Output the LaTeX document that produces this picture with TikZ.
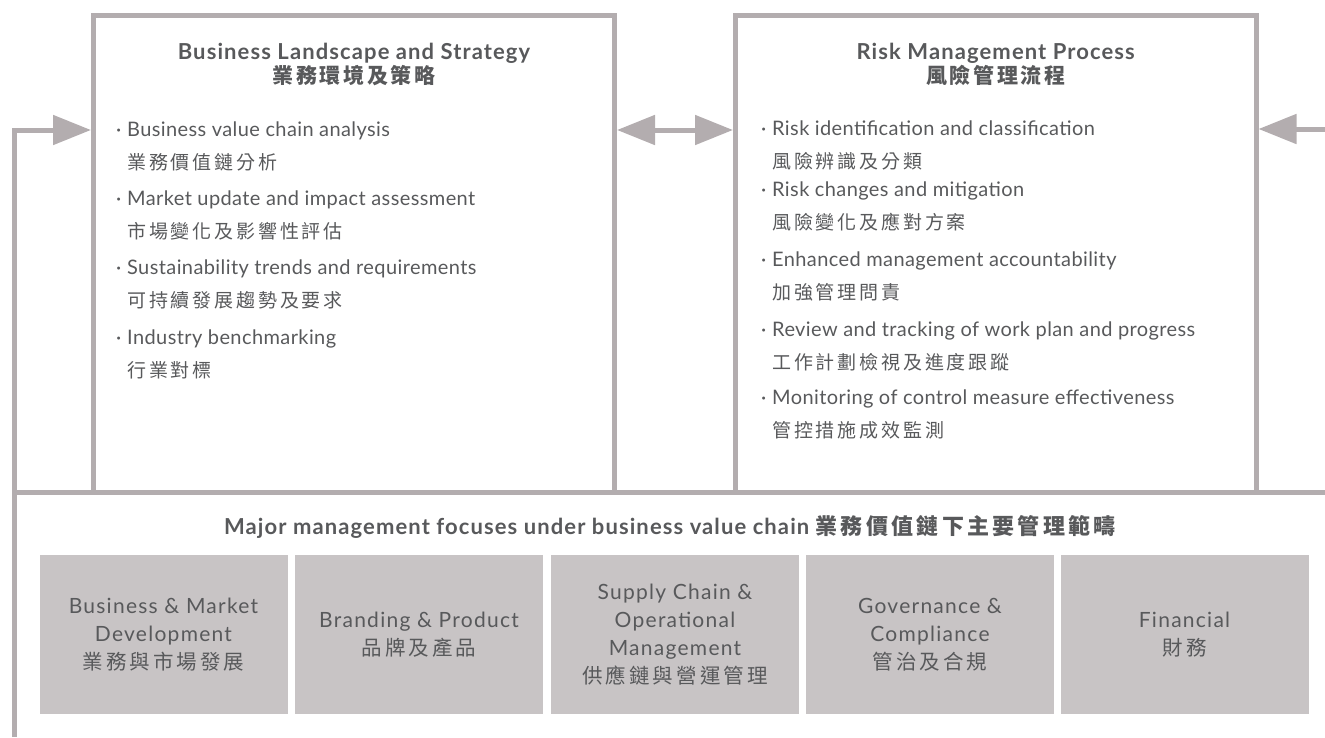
\documentclass[tikz,border=0pt]{standalone}
\usepackage{fontspec}
\setmainfont{Lato}
\newfontfamily\cjk[LetterSpace=15]{Noto Sans CJK TC}
\newfontfamily\cjkt[LetterSpace=12]{Noto Sans CJK TC}
\newfontfamily\cjkb[LetterSpace=15]{Noto Sans CJK TC}
\newfontfamily\latoit[LetterSpace=2]{Lato}
\newfontfamily\latobx[LetterSpace=6]{Lato}
\newfontfamily\latotl[LetterSpace=5]{Lato}
\usetikzlibrary{arrows.meta}
\definecolor{ln}{HTML}{B3ADAF}
\definecolor{bx}{HTML}{C8C4C5}
\definecolor{tx}{HTML}{58595B}
\tikzset{
  frame/.style={draw=ln, line width=5pt, rectangle, inner sep=0pt},
  conn/.style={draw=ln, line width=5pt, line join=miter},
  tip/.style={-{Triangle[length=38pt,width=29pt]}},
  dtip/.style={{Triangle[length=38pt,width=29pt]}-{Triangle[length=38pt,width=29pt]}},
  itm/.style={inner sep=0pt, text=tx, font=\fontsize{20}{24}\latoit},
  itmc/.style={inner sep=0pt, text=tx, font=\fontsize{19}{24}\cjk},
  ttl/.style={inner sep=0pt, text=tx, font=\fontsize{22}{26}\latotl\bfseries},
  ttlc/.style={inner sep=0pt, text=tx, font=\fontsize{21}{26}\cjkt\bfseries},
  focus/.style={fill=bx, inner sep=0pt, minimum width=248pt, minimum height=159pt,
    align=center, text=tx, font=\fontsize{21}{28}\latobx},
}
\newcommand\bxc[1]{{\fontsize{20.5}{28}\cjk #1}}
\newcommand\bullitem[5]{%
  \node[itm, anchor=base west] (#1e) at (#2,#3) {\llap{\textperiodcentered\hspace{6pt}}#4};
  \node[itmc, anchor=base west] (#1c) at (#2,#3+33) {#5};}
\begin{document}
\begin{tikzpicture}[x=1pt,y=-1pt]
\useasboundingbox (0,0) rectangle (1325,737);
% frames
\node[frame, minimum width=521pt, minimum height=476.5pt] (leftbox) at (354,253.75) {};
\node[frame, minimum width=520.5pt, minimum height=476.5pt] (rightbox) at (995.75,253.75) {};
% lines and arrows
\coordinate (hl) at (14.5,492);
\coordinate (hr) at (1325,492);
\draw[conn] (hl) -- (hr);
\coordinate (vb) at (14.5,737);
\coordinate (va) at (14.5,130);
\draw[conn, tip] (vb) -- (va) -- (va -| leftbox.west);
\coordinate (ra) at (1325,129);
\draw[conn, tip] (ra) -- (ra -| rightbox.east);
\coordinate (row) at (0,130);
\draw[conn, dtip] (row -| leftbox.east) -- (row -| rightbox.west);
% titles
\node[ttl, anchor=base] (lt1) at (354,59) {Business Landscape and Strategy};
\node[ttlc, anchor=base] (lt2) at (354,83) {業務環境及策略};
\node[ttl, anchor=base] (rt1) at (995.75,59) {Risk Management Process};
\node[ttlc, anchor=base] (rt2) at (995.75,83) {風險管理流程};
% left items
\bullitem{la}{127}{136}{Business value chain analysis}{業務價值鏈分析}
\bullitem{lb}{127}{205}{Market update and impact assessment}{市場變化及影響性評估}
\bullitem{lc}{127}{274}{Sustainability trends and requirements}{可持續發展趨勢及要求}
\bullitem{ld}{127}{344}{Industry benchmarking}{行業對標}
% right items
\bullitem{ra}{772}{135}{Risk identification and classification}{風險辨識及分類}
\bullitem{rb}{772}{196}{Risk changes and mitigation}{風險變化及應對方案}
\bullitem{rc}{772}{266}{Enhanced management accountability}{加強管理問責}
\bullitem{rd}{772}{336}{Review and tracking of work plan and progress}{工作計劃檢視及進度跟蹤}
\bullitem{re}{772}{404}{Monitoring of control measure effectiveness}{管控措施成效監測}
% bottom
\node[ttl, anchor=base] (bt) at (670,534) {Major management focuses under business value chain {\fontsize{22}{26}\cjkb\bfseries 業務價值鏈下主要管理範疇}};
\node[focus] (f1) at (163.5,634.5) {Business \& Market\\Development\\\bxc{業務與市場發展}};
\node[focus] (f2) at (419,634.5) {Branding \& Product\\\bxc{品牌及產品}};
\node[focus] (f3) at (675,634.5) {Supply Chain \&\\Operational\\Management\\\bxc{供應鏈與營運管理}};
\node[focus] (f4) at (930,634.5) {Governance \&\\Compliance\\\bxc{管治及合規}};
\node[focus] (f5) at (1184.5,634.5) {Financial\\\bxc{財務}};
\end{tikzpicture}
\end{document}
